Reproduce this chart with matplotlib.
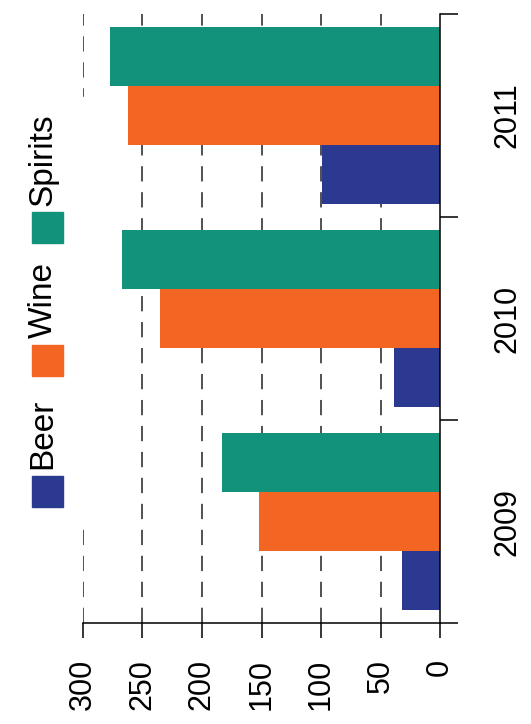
import matplotlib
matplotlib.use("Agg")
import matplotlib.pyplot as plt
from matplotlib.patches import Rectangle

years = ["2009", "2010", "2011"]
drinks = ["Beer", "Wine", "Spirits"]
beer = [32, 39, 99]
wine = [152, 235, 262]
spirits = [183, 267, 277]
value_ticks = [0, 50, 100, 150, 200, 250, 300]
colors = ["#2B3990", "#F26522", "#12917B"]

W, H = 531, 724

def fx(x):
    return x / W

def fy(y):
    return 1 - y / H

plt.rcParams['font.family'] = ['Liberation Sans', 'DejaVu Sans']
fig = plt.figure(figsize=(W / 100, H / 100), dpi=100)
ax = fig.add_axes([fx(83), fy(623), (440 - 83) / W, (623 - 14) / H])

# bars (chart is drawn turned on its side)
bar_h = 0.29
for j, vals in enumerate([beer, wine, spirits]):
    pos = [i + 0.5 + (j - 1) * bar_h for i in range(len(years))]
    ax.barh(pos, vals, height=bar_h, color=colors[j], zorder=2)

for v in value_ticks[1:]:
    ax.axvline(v, color="#222222", lw=1.1, ls=(0, (10, 7)), zorder=1)

ax.set_xlim(300, 0)
ax.set_ylim(0, len(years))

for s in ["top", "left"]:
    ax.spines[s].set_visible(False)
for s in ["bottom", "right"]:
    ax.spines[s].set_linewidth(1.1)

ax.set_xticks(value_ticks)
ax.set_xticklabels([str(v) for v in value_ticks])
ax.tick_params(axis="x", direction="out", length=10.8, width=1.1, pad=15,
               labelsize=22, labelrotation=90)

ax.yaxis.tick_right()
ax.set_yticks(range(len(years) + 1))
ax.set_yticklabels([])
ax.set_yticks([i + 0.5 for i in range(len(years))], minor=True)
ax.set_yticklabels(years, minor=True)
ax.tick_params(axis="y", which="major", right=True, left=False, length=13, width=1.1)
ax.tick_params(axis="y", which="minor", right=True, left=False, length=0, pad=38,
               labelsize=22, labelrotation=90, labelright=True, labelleft=False)
for lab in ax.get_yticklabels(minor=True):
    lab.set_va("center")

# legend, rotated like the rest
bg = Rectangle((0, fy(520)), fx(95), fy(97) - fy(520), transform=fig.transFigure,
               color="white", zorder=3)
fig.patches.append(bg)
sq_bottom = [507, 376, 243]
txt_bottom = [469, 338, 206]
for name, c, sb, tb in zip(drinks, colors, sq_bottom, txt_bottom):
    fig.patches.append(Rectangle((fx(32), fy(sb)), fx(31), 31 / H,
                                 transform=fig.transFigure, color=c, zorder=4))
    fig.text(fx(43), fy(tb), name, rotation=90, ha="center", va="bottom",
             fontsize=24, zorder=4)

fig.savefig("out.png", dpi=100)
